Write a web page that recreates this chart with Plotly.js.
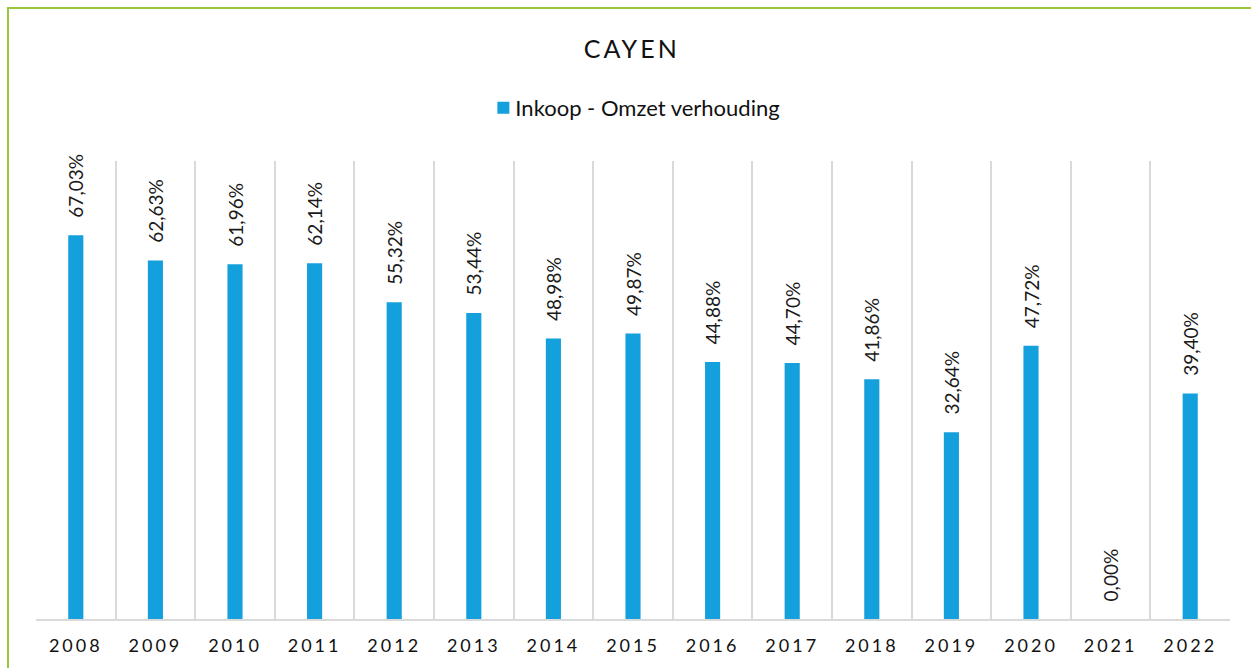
<!DOCTYPE html>
<html>
<head>
<meta charset="utf-8">
<script src="https://cdn.plot.ly/plotly-3.0.1.min.js"></script>
<style>
  html, body { margin: 0; padding: 0; background: #fff; overflow: hidden; }
  #frame { position: absolute; left: 7px; top: 7px; width: 1260px; height: 680px;
           border-left: 2px solid #9BC53A; border-top: 2px solid #9BC53A; box-sizing: border-box; pointer-events: none; z-index: 5; }
  #chart { position: absolute; left: 0; top: 0; width: 1251px; height: 668px; }
  .xtick text { letter-spacing: 3px; }
  .gtitle { letter-spacing: 3px; }
</style>
</head>
<body>
<div id="chart"></div>
<div id="frame"></div>
<script>
const years = ["2008","2009","2010","2011","2012","2013","2014","2015","2016","2017","2018","2019","2020","2021","2022"];
const ratio = [0.6703,0.6263,0.6196,0.6214,0.5532,0.5344,0.4898,0.4987,0.4488,0.4470,0.4186,0.3264,0.4772,0.0000,0.3940];
const seriesName = "Inkoop - Omzet verhouding";
const chartTitle = "CAYEN";

const FONT = "Lato, 'Open Sans', sans-serif";

const trace = {
  type: "bar",
  x: years,
  y: ratio,
  name: seriesName,
  marker: { color: "#14A0DC" },
  texttemplate: "\u00a0\u00a0\u00a0%{y:.2%}",
  textposition: "outside",
  textangle: -90,
  constraintext: "none",
  cliponaxis: false,
  textfont: { family: FONT, size: 19, color: "#1a1a1a" },
  hoverinfo: "skip"
};

const layout = {
  width: 1251, height: 668,
  margin: { l: 36, r: 21, t: 161, b: 49 },
  paper_bgcolor: "#ffffff",
  plot_bgcolor: "#ffffff",
  separators: ",.",
  showlegend: true,
  bargap: 0.81,
  title: {
    text: chartTitle,
    font: { family: FONT, size: 25, color: "#111111" },
    x: 0.505, xanchor: "center",
    y: 0.926, yanchor: "middle"
  },
  legend: {
    orientation: "h",
    x: 0.5045, xanchor: "center",
    y: 1.116, yanchor: "middle",
    font: { family: FONT, size: 22, color: "#111111" },
    itemwidth: 30
  },
  xaxis: {
    type: "category",
    tickson: "boundaries",
    showgrid: true,
    gridcolor: "#D9D9D9",
    gridwidth: 2,
    showline: true,
    linecolor: "#D9D9D9",
    linewidth: 2,
    ticks: "",
    tickfont: { family: FONT, size: 18, color: "#111111" },
    ticklabelstandoff: 9,
    fixedrange: true
  },
  yaxis: {
    range: [0, 0.8],
    showgrid: false,
    zeroline: false,
    showticklabels: false,
    ticks: "",
    fixedrange: true
  }
};

Plotly.newPlot("chart", [trace], layout, { staticPlot: true, displayModeBar: false }).then(function (gd) {
  // bring legend text closer to its swatch, as in the reference
  gd.querySelectorAll(".legend .legendtext").forEach(function (t) {
    t.setAttribute("x", "32");
  });
});
</script>
</body>
</html>
